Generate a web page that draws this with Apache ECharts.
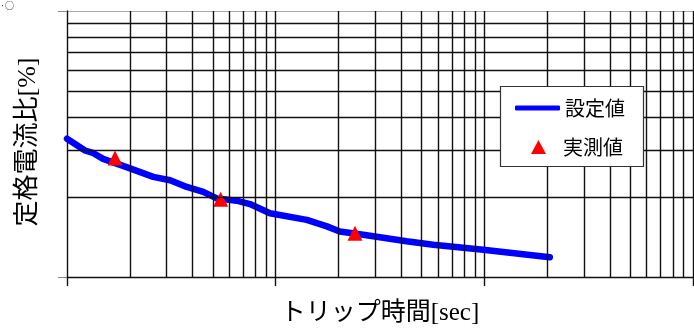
<!DOCTYPE html>
<html>
<head>
<meta charset="utf-8">
<script src="https://cdn.jsdelivr.net/npm/echarts@6/dist/echarts.min.js"></script>
<style>
  html, body { margin: 0; padding: 0; background: #fff; }
  #chart { width: 694px; height: 331px; }
</style>
</head>
<body>
<div id="chart"></div>
<script>
// Setting curve: trip time [sec] vs. rated current ratio [%]
const curveTime  = [1, 1.22, 1.34, 1.49, 1.93, 2.59, 3.12, 3.75, 4.5, 5.22, 6.5, 7.53, 9.39, 14.1, 17.6, 20.3, 26.3, 42.4, 56.9, 98.8, 206];
const curveRatio = [331, 299, 292, 278, 259, 238, 231, 218, 209, 197.5, 193.6, 188, 173.7, 164, 155, 148.3, 144.1, 136.2, 132.3, 126.7, 118.7];

// Measured points
const measuredTime  = [1.7, 5.45, 24.0];
const measuredRatio = [280, 196, 146];

// Logarithmic grid lines between the decades
const xMinorGrid = [2, 3, 4, 5, 6, 7, 8, 9, 20, 30, 40, 50, 60, 70, 80, 90, 200, 300, 400, 500, 600, 700, 800, 900];
const yMinorGrid = [200, 300, 400, 500, 600, 700, 800, 900];

const seriesNames = ['設定値', '実測値'];
const xTitle = 'トリップ時間[sec]';
const yTitle = '定格電流比[%]';

const serifFont = "'Liberation Serif', 'Noto Sans CJK JP', serif";
const legendFont = "'Noto Sans CJK JP', sans-serif";
const gridColor = '#111';
const gridWidth = 1.4;

const chart = echarts.init(document.getElementById('chart'), null, { renderer: 'canvas' });

const gridLineData = xMinorGrid.map(v => ({ xAxis: v }))
  .concat(yMinorGrid.map(v => ({ yAxis: v })));

chart.setOption({
  animation: false,
  backgroundColor: '#fff',
  grid: { left: 67, right: 1, top: 11, bottom: 52 },
  xAxis: {
    type: 'log',
    logBase: 10,
    min: 1,
    max: 1000,
    name: xTitle,
    nameLocation: 'middle',
    nameGap: 24,
    nameTextStyle: { fontFamily: serifFont, fontSize: 25, color: '#000' },
    axisLine: { show: true, lineStyle: { color: gridColor, width: gridWidth } },
    axisTick: { show: true, length: 9, lineStyle: { color: gridColor, width: gridWidth } },
    axisLabel: { show: false },
    minorTick: { show: false },
    splitLine: { show: true, showMinLine: false, lineStyle: { color: gridColor, width: gridWidth } }
  },
  yAxis: {
    type: 'log',
    logBase: 10,
    min: 100,
    max: 1000,
    name: yTitle,
    nameLocation: 'middle',
    nameGap: 26,
    nameTextStyle: { fontFamily: serifFont, fontSize: 26, color: '#000', padding: [0, 0, 0, 4] },
    axisLine: { show: true, lineStyle: { color: gridColor, width: gridWidth } },
    axisTick: { show: true, length: 9, lineStyle: { color: '#888', width: 1 } },
    axisLabel: { show: false },
    minorTick: { show: false },
    splitLine: { show: true, showMinLine: false, lineStyle: { color: '#aaa', width: 1.2 } }
  },
  legend: [
    {
      data: [{ name: seriesNames[0], icon: 'roundRect' }],
      left: 515,
      top: 98,
      padding: 0,
      itemWidth: 45,
      itemHeight: 5,
      z: 60,
      selectedMode: false,
      textStyle: { fontFamily: legendFont, fontSize: 20, color: '#000', padding: [0, 0, 7, 0] }
    },
    {
      data: [{ name: seriesNames[1], icon: 'triangle' }],
      left: 531,
      top: 137,
      padding: 0,
      itemWidth: 15,
      itemHeight: 14,
      z: 60,
      selectedMode: false,
      textStyle: { fontFamily: legendFont, fontSize: 20, color: '#000', padding: [0, 0, 10, 12] }
    }
  ],
  graphic: [
    {
      type: 'rect',
      z: 50,
      shape: { x: 500.5, y: 86.5, width: 143, height: 80 },
      style: { fill: '#fff', stroke: '#333', lineWidth: 1.2 }
    },
    {
      type: 'text',
      z: 50,
      x: 0,
      y: 1,
      style: { text: '·○', fontSize: 9, fill: '#000', fontFamily: legendFont }
    }
  ],
  series: [
    {
      name: 'grid',
      type: 'scatter',
      data: [],
      z: 1,
      silent: true,
      markLine: {
        silent: true,
        symbol: ['none', 'none'],
        label: { show: false },
        emphasis: { disabled: true },
        lineStyle: { color: gridColor, width: gridWidth, type: 'solid' },
        data: gridLineData
      }
    },
    {
      name: seriesNames[0],
      type: 'line',
      z: 3,
      showSymbol: false,
      symbol: 'none',
      clip: true,
      data: curveTime.map((t, i) => [t, curveRatio[i]]),
      itemStyle: { color: '#0000ff' },
      lineStyle: { color: '#0000ff', width: 6.5, cap: 'round', join: 'round' }
    },
    {
      name: seriesNames[1],
      type: 'scatter',
      z: 4,
      symbol: 'triangle',
      symbolSize: [15, 15],
      data: measuredTime.map((t, i) => [t, measuredRatio[i]]),
      itemStyle: { color: '#ff0000', opacity: 1 }
    }
  ]
});
</script>
</body>
</html>
